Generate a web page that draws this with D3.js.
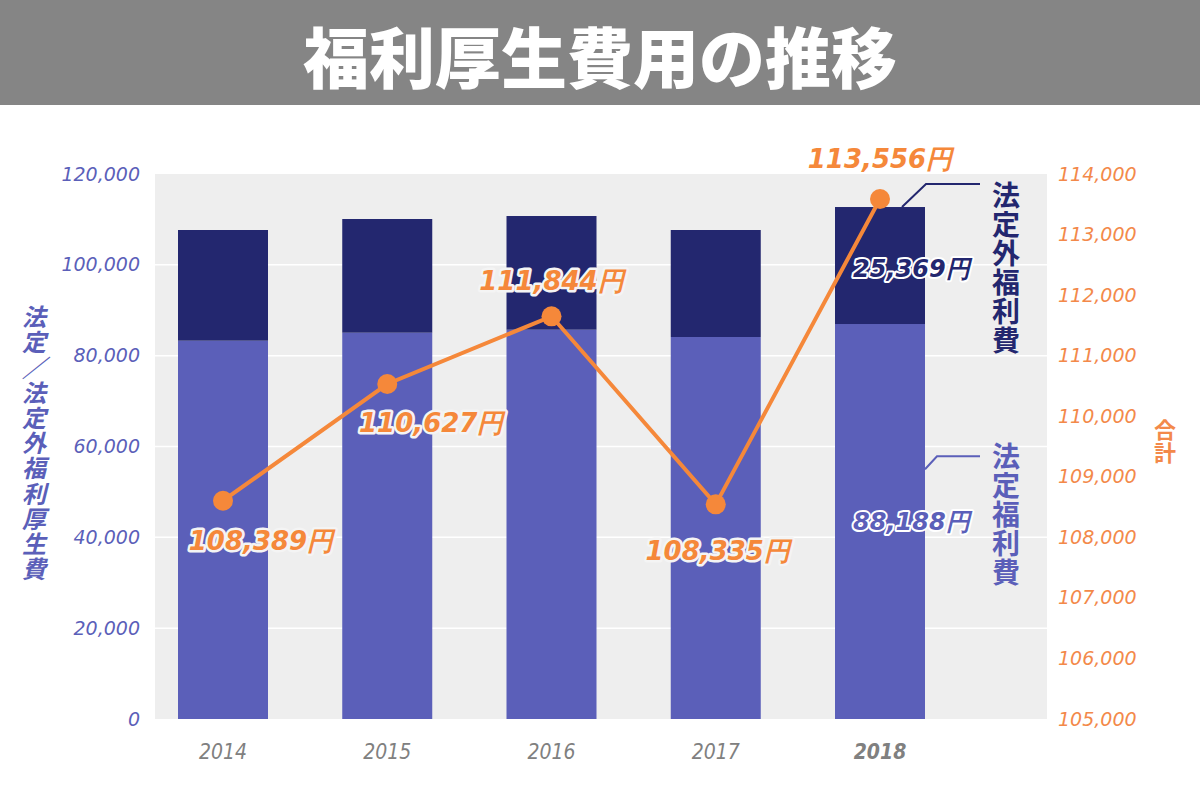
<!DOCTYPE html>
<html lang="ja">
<head>
<meta charset="UTF-8">
<title>福利厚生費用の推移</title>
<script src="https://d3js.org/d3.v7.min.js"></script>
<style>
    body { margin: 0; background: #ffffff; }
    svg { display: block; }
    .tick line { display: none; }
    .domain { display: none; }
</style>
</head>
<body>
<div id="chart"></div>
<script>
// data
const years = ["2014", "2015", "2016", "2017", "2018"];
const statutory = [83300, 85060, 85720, 84110, 86970];      // 法定福利費 (bar, light)
const nonStatutory = [24370, 25030, 25030, 23560, 25760];   // 法定外福利費 (bar, dark)
const totals = [108605, 110532, 111650, 108545, 113587];    // 合計 (line, right axis)
const totalLabels = [108389, 110627, 111844, 108335, 113556];
const lastParts = [88188, 25369];                          // 2018 segment labels
const leftTicks = [0, 20000, 40000, 60000, 80000, 100000, 120000];
const rightTicks = [105000, 106000, 107000, 108000, 109000, 110000, 111000, 112000, 113000, 114000];

const W = 1200, H = 795;
const plot = { left: 155, right: 1047, top: 174, bottom: 719 };
const light = "#5b5fb9", dark = "#23276f", orange = "#f5883a", tickOrange = "#f3894a";
const fmt = d3.format(",");

const svg = d3.select("#chart").append("svg")
    .attr("width", W).attr("height", H);

// title band
svg.append("rect").attr("x", 0).attr("y", 0).attr("width", W).attr("height", 105)
    .attr("fill", "#858585");
svg.append("text")
    .attr("x", W / 2).attr("y", 54)
    .attr("text-anchor", "middle").attr("dominant-baseline", "central")
    .style("font-family", "'Noto Sans CJK JP', sans-serif")
    .style("font-weight", 900).style("font-size", "66px")
    .attr("fill", "#ffffff")
    .text("福利厚生費用の推移");

// plot background
svg.append("rect")
    .attr("x", plot.left).attr("y", plot.top)
    .attr("width", plot.right - plot.left).attr("height", plot.bottom - plot.top)
    .attr("fill", "#eeeeee");

const x = d3.scalePoint().domain(years).range([223, 880]);
const barW = 90;
const yL = d3.scaleLinear().domain([0, 120000]).range([plot.bottom, plot.top]);
const yR = d3.scaleLinear().domain([105000, 114000]).range([plot.bottom, plot.top]);

// gridlines
svg.append("g").selectAll("line")
    .data(leftTicks.slice(1, -1))
    .join("line")
    .attr("x1", plot.left).attr("x2", plot.right)
    .attr("y1", d => yL(d)).attr("y2", d => yL(d))
    .attr("stroke", "#ffffff").attr("stroke-width", 1.5);

// axes
const gL = svg.append("g")
    .attr("transform", `translate(${plot.left - 12},0)`)
    .call(d3.axisLeft(yL).tickValues(leftTicks).tickFormat(fmt).tickSize(0));
gL.selectAll("text")
    .attr("fill", light)
    .style("font-family", "'DejaVu Sans', sans-serif")
    .style("font-style", "italic").style("font-size", "19px");

const gR = svg.append("g")
    .attr("transform", `translate(${plot.right + 11},0)`)
    .call(d3.axisRight(yR).tickValues(rightTicks).tickFormat(fmt).tickSize(0).tickPadding(0));
gR.selectAll("text")
    .attr("fill", tickOrange)
    .style("font-family", "'DejaVu Sans', sans-serif")
    .style("font-style", "italic").style("font-size", "19px");

// x labels
svg.append("g").selectAll("text")
    .data(years)
    .join("text")
    .attr("x", d => x(d)).attr("y", 752)
    .attr("text-anchor", "middle").attr("dominant-baseline", "central")
    .attr("fill", "#808080")
    .style("font-family", "'DejaVu Sans Condensed', 'DejaVu Sans', sans-serif")
    .style("font-style", "italic").style("font-size", "21px")
    .style("font-weight", (d, i) => i === years.length - 1 ? "bold" : "normal")
    .text(d => d);

// stacked bars
const rows = years.map((yr, i) => ({ yr, s: statutory[i], n: nonStatutory[i] }));
svg.append("g").selectAll("rect")
    .data(rows)
    .join("rect")
    .attr("x", d => x(d.yr) - barW / 2).attr("width", barW)
    .attr("y", d => yL(d.s)).attr("height", d => yL(0) - yL(d.s))
    .attr("fill", light);
svg.append("g").selectAll("rect")
    .data(rows)
    .join("rect")
    .attr("x", d => x(d.yr) - barW / 2).attr("width", barW)
    .attr("y", d => yL(d.s + d.n)).attr("height", d => yL(d.s) - yL(d.s + d.n))
    .attr("fill", dark);

// 2018 segment labels
const last = rows[rows.length - 1];
const segText = svg.append("g")
    .style("font-family", "'DejaVu Sans', sans-serif")
    .style("font-weight", "bold").style("font-style", "italic").style("font-size", "24px")
    .attr("stroke", "#ffffff").attr("stroke-width", 4).attr("stroke-linejoin", "round")
    .style("paint-order", "stroke");
segText.append("text")
    .attr("x", x(last.yr) - 27).attr("y", (yL(0) + yL(last.s)) / 2)
    .attr("dominant-baseline", "central")
    .attr("fill", light)
    .text(fmt(lastParts[0]) + "円");
segText.append("text")
    .attr("x", x(last.yr) - 27).attr("y", (yL(last.s) + yL(last.s + last.n)) / 2 + 3)
    .attr("dominant-baseline", "central")
    .attr("fill", dark)
    .text(fmt(lastParts[1]) + "円");

// total line
const line = d3.line().x((d, i) => x(years[i])).y(d => yR(d));
svg.append("path")
    .datum(totals)
    .attr("d", line)
    .attr("fill", "none").attr("stroke", orange).attr("stroke-width", 4);
svg.append("g").selectAll("circle")
    .data(totals)
    .join("circle")
    .attr("cx", (d, i) => x(years[i])).attr("cy", d => yR(d))
    .attr("r", 10).attr("fill", orange);

// total labels (offsets from each point)
const labelOffsets = [[38, 49], [44, 48], [0, -26], [2, 56], [0, -31]];
svg.append("g").selectAll("text")
    .data(totals)
    .join("text")
    .attr("x", (d, i) => x(years[i]) + labelOffsets[i][0])
    .attr("y", (d, i) => yR(d) + labelOffsets[i][1])
    .attr("text-anchor", "middle")
    .attr("fill", orange)
    .attr("stroke", (d, i) => i === 4 ? "none" : "#f4f4f4")
    .attr("stroke-width", 5).attr("stroke-linejoin", "round")
    .style("paint-order", "stroke")
    .style("font-family", "'DejaVu Sans', sans-serif")
    .style("font-weight", "bold").style("font-style", "italic").style("font-size", "26px")
    .text((d, i) => fmt(totalLabels[i]) + "円");

// vertical text written top to bottom in one element
function vtext(str, cx, top, size, step, color, italic) {
    svg.append("text")
        .attr("x", cx).attr("y", top)
        .attr("fill", color)
        .style("writing-mode", "vertical-rl")
        .style("text-orientation", "upright")
        .style("letter-spacing", (step - size) + "px")
        .style("font-family", "'Noto Sans CJK JP', sans-serif")
        .style("font-weight", "bold").style("font-size", size + "px")
        .style("font-style", italic ? "italic" : "normal")
        .text(str);
}

vtext("法定／法定外福利厚生費", 34, 305, 24, 25.2, light, true);
vtext("合計", 1165, 419, 22, 23, tickOrange, false);
vtext("法定外福利費", 1006, 181, 28, 29, dark, false);
vtext("法定福利費", 1006, 442, 28, 29, light, false);

// leader lines
const xr = x(last.yr) + barW / 2;
const topY = yL(last.s + last.n);
svg.append("path")
    .attr("d", `M${x(last.yr) + 22},${topY} L${x(last.yr) + 46},${topY - 23} L980,${topY - 23}`)
    .attr("fill", "none").attr("stroke", dark).attr("stroke-width", 2);
svg.append("path")
    .attr("d", `M${xr},${yL(55000)} L${xr + 12},${yL(55000) - 13} L980,${yL(55000) - 13}`)
    .attr("fill", "none").attr("stroke", light).attr("stroke-width", 2);
</script>
</body>
</html>
